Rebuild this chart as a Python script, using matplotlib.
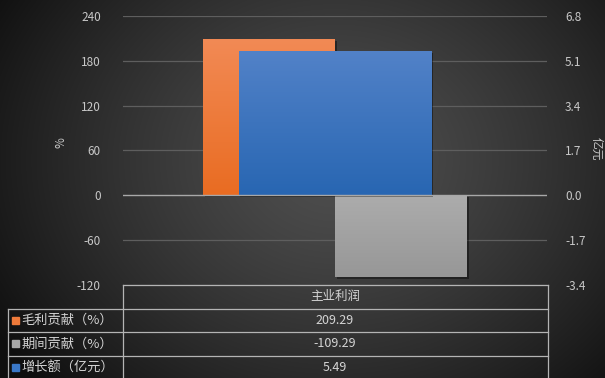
import numpy as np
import matplotlib
matplotlib.use("Agg")
import matplotlib.pyplot as plt
from matplotlib import patheffects as pe
from matplotlib.colors import to_rgb

plt.rcParams['font.family'] = ['Noto Sans CJK SC', 'DejaVu Sans']

# data
category = "主业利润"
series_names = ["毛利贡献（%）", "期间贡献（%）", "增长额（亿元）"]
pct_values = [209.29, -109.29]          # left axis, %
growth_value = [5.49]                    # right axis, 亿元
value_labels = ["209.29", "-109.29", "5.49"]
left_ticks = [-120, -60, 0, 60, 120, 180, 240]
right_ticks = [-3.4, -1.7, 0.0, 1.7, 3.4, 5.1, 6.8]

W, H = 605, 378
fig = plt.figure(figsize=(W / 100, H / 100), dpi=100)

# radial dark background
bg = fig.add_axes([0, 0, 1, 1], zorder=-10)
yy, xx = np.mgrid[0:H, 0:W]
r = np.sqrt(((xx - 335) / 360.0) ** 2 + ((yy - 160) / 300.0) ** 2)
v = np.clip(0.31 - 0.22 * r ** 1.3, 0.06, 0.31)
bg.imshow(np.dstack([v, v, v]), extent=(0, W, H, 0), aspect='auto')
bg.set_axis_off()

def px_box(x0, y0, x1, y1):
    return [x0 / W, 1 - y1 / H, (x1 - x0) / W, (y1 - y0) / H]

ax = fig.add_axes(px_box(123, 16, 547, 285))
ax.patch.set_alpha(0)
ax2 = ax.twinx()
ax2.patch.set_alpha(0)

tick_color = '#c8c8c8'
grid_color = '#5e5e5e'

ax.set_xlim(-0.5, 0.5)
ax.set_ylim(-120, 240)
ax2.set_ylim(-3.4, 6.8)
ax.set_yticks(left_ticks)
ax.set_yticklabels([str(t) for t in left_ticks])
ax2.set_yticks(right_ticks)
ax2.set_yticklabels([f"{t:.1f}" for t in right_ticks])
ax.set_xticks([])
for a in (ax, ax2):
    for s in a.spines.values():
        s.set_visible(False)
    a.tick_params(axis='y', length=0, colors=tick_color, labelsize=8.5)
ax.tick_params(axis='y', pad=16)
ax2.tick_params(axis='y', pad=13)
for t in left_ticks:
    if t != 0:
        ax.axhline(t, color=grid_color, lw=0.9, zorder=0)

ax.set_ylabel('%', color=tick_color, fontsize=8.5, va='center')
ax.yaxis.set_label_coords(-0.146, 0.53)
ax2.set_ylabel('亿元', color=tick_color, fontsize=8.5, rotation=270, va='center')
ax2.yaxis.set_label_coords(1.117, 0.505)

shadow = [pe.SimplePatchShadow(offset=(1.2, -1.5), shadow_rgbFace='black', alpha=0.4), pe.Normal()]

def gradient_fill(axis, patch, top_col, bot_col):
    x0, w = patch.get_x(), patch.get_width()
    y0, h = patch.get_y(), patch.get_height()
    lo, hi = min(y0, y0 + h), max(y0, y0 + h)
    t = np.linspace(0, 1, 128)[:, None, None]
    img = (1 - t) * np.array(to_rgb(top_col)) + t * np.array(to_rgb(bot_col))
    im = axis.imshow(img, extent=(x0, x0 + w, lo, hi), aspect='auto',
                     origin='upper', zorder=patch.get_zorder() + 0.1)
    im.set_clip_path(patch)

bw = 0.311
bars = ax.bar([-bw / 2, bw / 2], pct_values, width=bw,
              color=['#ee7a3a', '#a0a0a0'], zorder=2)
for b in bars:
    b.set_path_effects(shadow)
gradient_fill(ax, bars[0], '#f28a55', '#e96c22')
gradient_fill(ax, bars[1], '#acacac', '#979797')

bars2 = ax2.bar([0.0], growth_value, width=0.455, color='#3a72c0', zorder=2)
bars2[0].set_path_effects(shadow)
gradient_fill(ax2, bars2[0], '#5282c8', '#2866b2')
ax2.axhline(0, color='#a8a8a8', lw=1.0, zorder=5)

ax.set_xlim(-0.5, 0.5)
ax.set_ylim(-120, 240)
ax2.set_ylim(-3.4, 6.8)

# data table beneath the plot
line_kw = dict(color='#b4b4b4', lw=0.9)
def hline(y, x0, x1):
    fig.add_artist(plt.Line2D([x0 / W, x1 / W], [1 - y / H, 1 - y / H], **line_kw))
def vline(x, y0, y1):
    fig.add_artist(plt.Line2D([x / W, x / W], [1 - y0 / H, 1 - y1 / H], **line_kw))

row_edges = [285, 308.5, 332, 355.5, 380]
hline(row_edges[0], 123, 548)
for y in row_edges[1:4]:
    hline(y, 8, 548)
vline(123, row_edges[0], H + 2)
vline(548, row_edges[0], H + 2)
vline(8, row_edges[1], H + 2)

text_color = '#d4d4d4'
fig.text(335 / W, 1 - (row_edges[0] + row_edges[1]) / 2 / H, category,
         color=text_color, fontsize=9, ha='center', va='center')
swatches = ['#ee7a3a', '#a8a8a8', '#3a78c8']
for i, (name, val, col) in enumerate(zip(series_names, value_labels, swatches)):
    yc = (row_edges[i + 1] + row_edges[i + 2]) / 2
    fig.text(335 / W, 1 - yc / H, val, color=text_color, fontsize=9,
             ha='center', va='center')
    fig.add_artist(plt.Rectangle((12 / W, 1 - (yc + 3.5) / H), 7 / W, 7 / H,
                                 color=col, transform=fig.transFigure))
    fig.text(21 / W, 1 - yc / H, name, color=text_color, fontsize=9.5,
             ha='left', va='center')

fig.savefig('out.png', dpi=100)
